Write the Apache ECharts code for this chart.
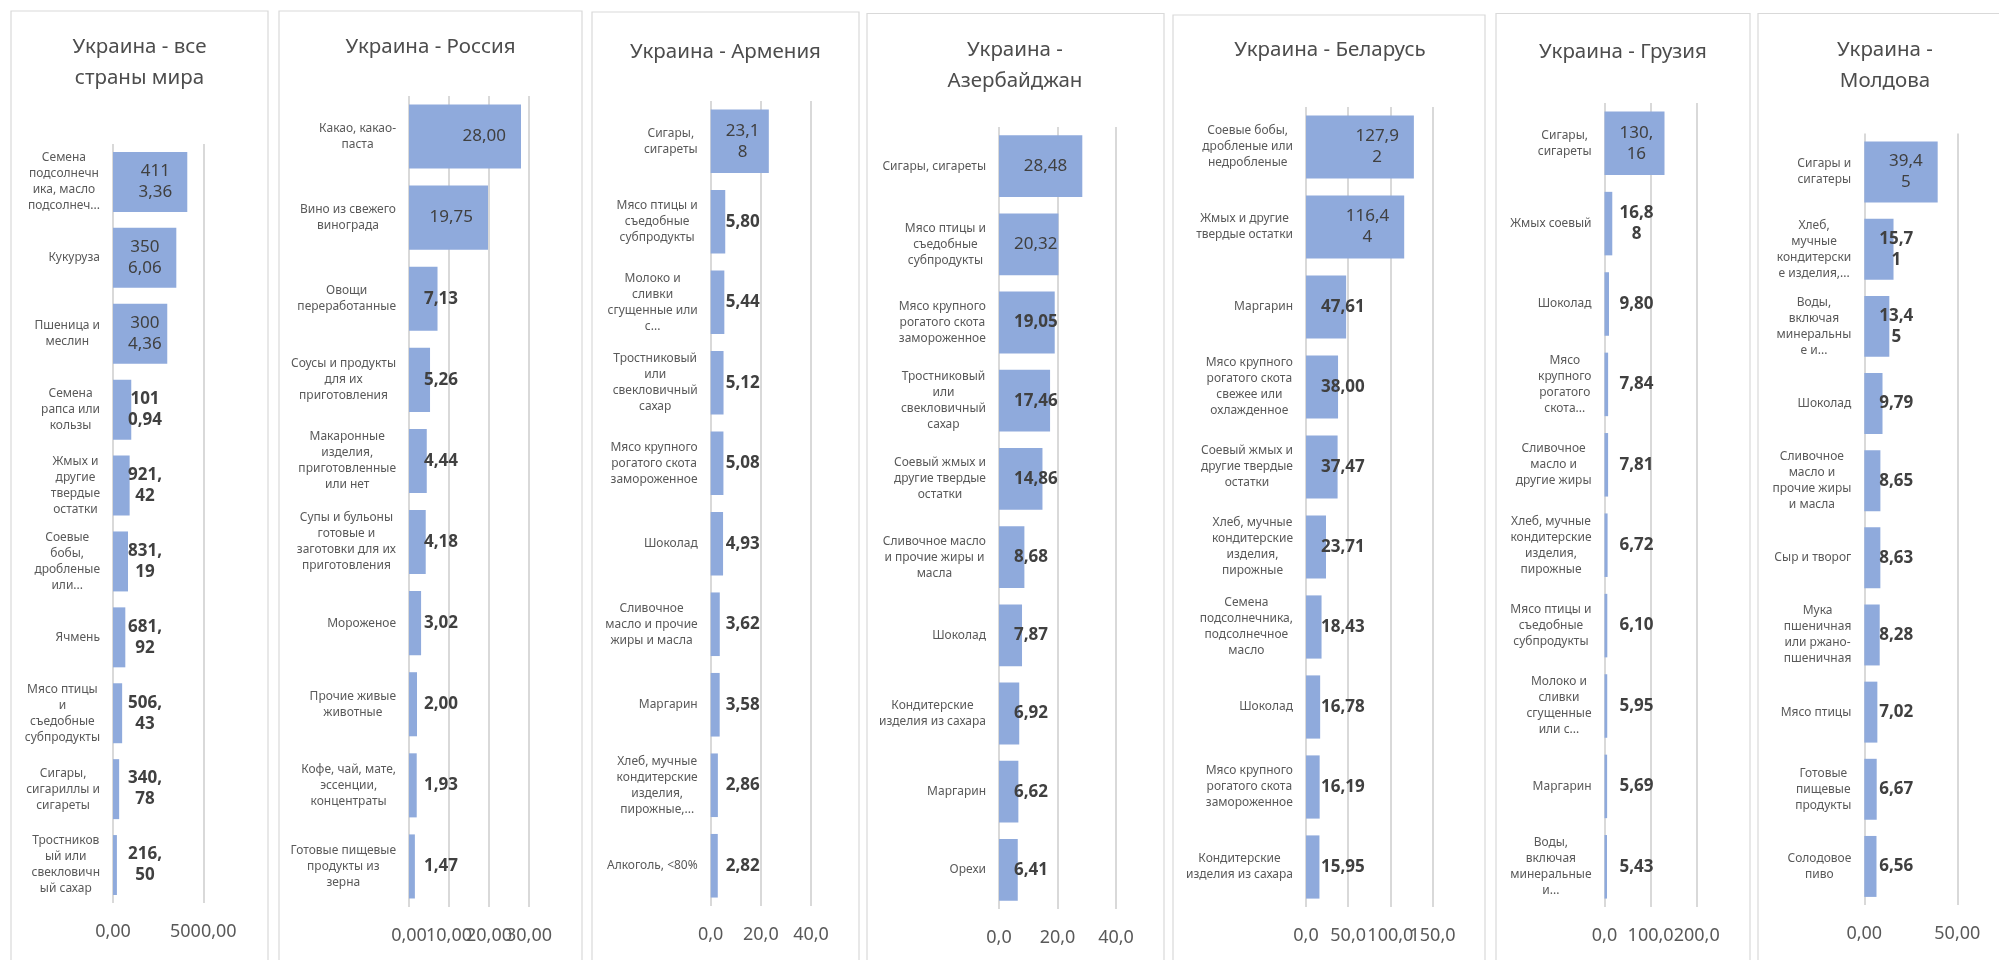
<!DOCTYPE html>
<html><head><meta charset="utf-8">
<script src="https://cdn.jsdelivr.net/npm/echarts@6/dist/echarts.min.js"></script>
<style>html,body{margin:0;padding:0;background:#fff}#c{width:1999px;height:960px}</style>
</head><body><div id="c"></div>
<script>
// ---------- DATA ----------
const titles = [
  "Украина - все\nстраны мира",
  "Украина - Россия",
  "Украина - Армения",
  "Украина -\nАзербайджан",
  "Украина - Беларусь",
  "Украина - Грузия",
  "Украина -\nМолдова"
];

const catsWorld = ["Семена\nподсолнечн\nика, масло\nподсолнеч...","Кукуруза","Пшеница и\nмеслин","Семена\nрапса или\nкользы","Жмых и\nдругие\nтвердые\nостатки","Соевые\nбобы,\nдробленые\nили...","Ячмень","Мясо птицы\nи\nсъедобные\nсубпродукты","Сигары,\nсигариллы и\nсигареты","Тростников\nый или\nсвекловичн\nый сахар"];
const valsWorld = [4113.36, 3506.06, 3004.36, 1010.94, 921.42, 831.19, 681.92, 506.43, 340.78, 216.50];

const catsRussia = ["Какао, какао-\nпаста","Вино из свежего\nвинограда","Овощи\nпереработанные","Соусы и продукты\nдля их\nприготовления","Макаронные\nизделия,\nприготовленные\nили нет","Супы и бульоны\nготовые и\nзаготовки для их\nприготовления","Мороженое","Прочие живые\nживотные","Кофе, чай, мате,\nэссенции,\nконцентраты","Готовые пищевые\nпродукты из\nзерна"];
const valsRussia = [28.00, 19.75, 7.13, 5.26, 4.44, 4.18, 3.02, 2.00, 1.93, 1.47];

const catsArmenia = ["Сигары,\nсигареты","Мясо птицы и\nсъедобные\nсубпродукты","Молоко и\nсливки\nсгущенные или\nс...","Тростниковый\nили\nсвекловичный\nсахар","Мясо крупного\nрогатого скота\nзамороженное","Шоколад","Сливочное\nмасло и прочие\nжиры и масла","Маргарин","Хлеб, мучные\nкондитерские\nизделия,\nпирожные,...","Алкоголь, <80%"];
const valsArmenia = [23.18, 5.80, 5.44, 5.12, 5.08, 4.93, 3.62, 3.58, 2.86, 2.82];

const catsAzerbaijan = ["Сигары, сигареты","Мясо птицы и\nсъедобные\nсубпродукты","Мясо крупного\nрогатого скота\nзамороженное","Тростниковый\nили\nсвекловичный\nсахар","Соевый жмых и\nдругие твердые\nостатки","Сливочное масло\nи прочие жиры и\nмасла","Шоколад","Кондитерские\nизделия из сахара","Маргарин","Орехи"];
const valsAzerbaijan = [28.48, 20.32, 19.05, 17.46, 14.86, 8.68, 7.87, 6.92, 6.62, 6.41];

const catsBelarus = ["Соевые бобы,\nдробленые или\nнедробленые","Жмых и другие\nтвердые остатки","Маргарин","Мясо крупного\nрогатого скота\nсвежее или\nохлажденное","Соевый жмых и\nдругие твердые\nостатки","Хлеб, мучные\nкондитерские\nизделия,\nпирожные","Семена\nподсолнечника,\nподсолнечное\nмасло","Шоколад","Мясо крупного\nрогатого скота\nзамороженное","Кондитерские\nизделия из сахара"];
const valsBelarus = [127.92, 116.44, 47.61, 38.00, 37.47, 23.71, 18.43, 16.78, 16.19, 15.95];

const catsGeorgia = ["Сигары,\nсигареты","Жмых соевый","Шоколад","Мясо\nкрупного\nрогатого\nскота...","Сливочное\nмасло и\nдругие жиры","Хлеб, мучные\nкондитерские\nизделия,\nпирожные","Мясо птицы и\nсъедобные\nсубпродукты","Молоко и\nсливки\nсгущенные\nили с...","Маргарин","Воды,\nвключая\nминеральные\nи..."];
const valsGeorgia = [130.16, 16.88, 9.80, 7.84, 7.81, 6.72, 6.10, 5.95, 5.69, 5.43];

const catsMoldova = ["Сигары и\nсигатеры","Хлеб,\nмучные\nкондитерски\nе изделия,...","Воды,\nвключая\nминеральны\nе и...","Шоколад","Сливочное\nмасло и\nпрочие жиры\nи масла","Сыр и творог","Мука\nпшеничная\nили ржано-\nпшеничная","Мясо птицы","Готовые\nпищевые\nпродукты","Солодовое\nпиво"];
const valsMoldova = [39.45, 15.71, 13.45, 9.79, 8.65, 8.63, 8.28, 7.02, 6.67, 6.56];

// axis ticks (max, interval, decimals of tick labels)
const axisMax = [5000, 30, 40, 40, 150, 200, 50];
const axisStep = [5000, 10, 20, 20, 50, 100, 50];
const axisDecimals = [2, 2, 1, 1, 1, 1, 2];

const allCats = [catsWorld, catsRussia, catsArmenia, catsAzerbaijan, catsBelarus, catsGeorgia, catsMoldova];
const allVals = [valsWorld, valsRussia, valsArmenia, valsAzerbaijan, valsBelarus, valsGeorgia, valsMoldova];

// ---------- LAYOUT ----------
const layout = [
  {px:11,   py:11,   pw:257, gl:113,   gr:203.3,  gt:144,   gb:903, tx:139.5, ty:32, wrap:4},
  {px:279,  py:11,   pw:303, gl:409,   gr:529,    gt:96,    gb:907, tx:430.5, ty:32, wrap:6},
  {px:592,  py:12,   pw:267, gl:710.7, gr:811,    gt:101,   gb:906, tx:725.5, ty:37, wrap:4},
  {px:867,  py:13.5, pw:297, gl:999,   gr:1116,   gt:127,   gb:909, tx:1015,  ty:35, wrap:6},
  {px:1173, py:15,   pw:312, gl:1306,  gr:1432.5, gt:107,   gb:907, tx:1330,  ty:35, wrap:5},
  {px:1496, py:13.5, pw:254, gl:1604.5,gr:1696.7, gt:103,   gb:907, tx:1623,  ty:37, wrap:4},
  {px:1758, py:13.5, pw:254, gl:1864.3,gr:1957.3, gt:133.5, gb:905, tx:1885,  ty:35, wrap:4}
];

const FONT = '"Noto Sans", "Open Sans", "DejaVu Sans", sans-serif';
const VAL_SIZE = 17, VAL_LH = 21, PAD = 15;

function fmtNum(v, d) { return v.toFixed(d).replace('.', ','); }
function wrapNum(s, n) {
  const lines = [];
  while (s.length > n) {
    let k = n;
    if (s[k] === ',') k--;
    lines.push(s.slice(0, k));
    s = s.slice(k);
  }
  lines.push(s);
  return lines;
}

const chart = echarts.init(document.getElementById('c'), null, {renderer: 'canvas'});

// 'in' = inside end; 'base' = pushed to the base; weight depends on the background under the text
const placement = allVals.map(v => v.map(() => 'in'));
const onBar = allVals.map(v => v.map(() => true));

function buildSeries() {
  return allVals.map((vals, i) => ({
    type: 'bar',
    xAxisIndex: i, yAxisIndex: i,
    barCategoryGap: '21%',
    itemStyle: {color: '#8faadc'},
    data: vals.map((v, j) => ({
      value: v,
      label: {
        position: placement[i][j] === 'in' ? 'insideRight' : 'insideLeft'
      }
    })),
    label: {
      show: true,
      distance: PAD,
      formatter: (p) => {
        const key = onBar[i][p.dataIndex] ? 'n' : 'b';
        return wrapNum(fmtNum(p.value, 2), layout[i].wrap).map(l => '{' + key + '|' + l + '}').join('\n');
      },
      rich: {
        n: {align: 'center', fontFamily: FONT, fontSize: VAL_SIZE, lineHeight: VAL_LH, color: '#404040', fontWeight: 'normal'},
        b: {align: 'center', fontFamily: FONT, fontSize: VAL_SIZE, lineHeight: VAL_LH, color: '#404040', fontWeight: 'bold'}
      }
    }
  }));
}

// Each grid gets two value axes with the same scale: one labels the even ticks, the
// other the odd ticks, so that touching tick labels (as in the original) are all kept.
function makeXAxis(i, parity) {
  return {
    type: 'value', gridIndex: i, position: 'bottom', offset: 0,
    min: 0, max: axisMax[i], interval: axisStep[i],
    axisLine: {show: false}, axisTick: {show: false},
    splitLine: {show: parity === 0, lineStyle: {color: '#d9d9d9', width: 2}},
    axisLabel: {
      show: true, showMinLabel: true, showMaxLabel: true, hideOverlap: false,
      margin: 20, fontFamily: FONT, fontSize: 18, color: '#595959',
      formatter: v => (Math.round(v / axisStep[i]) % 2 === parity) ? fmtNum(v, axisDecimals[i]) : ''
    }
  };
}

const option = {
  animation: false,
  backgroundColor: '#ffffff',
  graphic: layout.map(L => ({
    type: 'rect', z: -10, silent: true,
    shape: {x: L.px, y: L.py, width: L.pw, height: 1000},
    style: {fill: 'none', stroke: '#d9d9d9', lineWidth: 1.2}
  })),
  title: titles.map((t, i) => ({
    text: t,
    left: layout[i].tx, top: layout[i].ty,
    textAlign: 'center',
    padding: 0,
    textStyle: {fontFamily: FONT, fontSize: 20.5, fontWeight: 'normal', color: '#4d4d4d', lineHeight: 31}
  })),
  grid: layout.map(L => ({
    left: L.gl, top: L.gt, width: L.gr - L.gl, height: L.gb - L.gt
  })),
  xAxis: layout.map((L, i) => makeXAxis(i, 0)).concat(layout.map((L, i) => makeXAxis(i, 1))),
  yAxis: layout.map((L, i) => ({
    type: 'category', gridIndex: i, inverse: true, data: allCats[i],
    axisLine: {show: false}, axisTick: {show: false},
    axisLabel: {
      interval: 0, margin: 13,
      formatter: s => s.split('\n').map(l => '{c|' + l + '}').join('\n'),
      rich: {c: {align: 'center', fontFamily: FONT, fontSize: 12, lineHeight: 16, color: '#595959'}}
    }
  })),
  series: buildSeries()
};

chart.setOption(option);

// decide label placement (Excel "inside end", pushed to the base when it does not fit)
const ctx = document.createElement('canvas').getContext('2d');
ctx.font = 'normal ' + VAL_SIZE + 'px ' + FONT;
allVals.forEach((vals, i) => {
  const base = chart.convertToPixel({xAxisIndex: i}, 0);
  vals.forEach((v, j) => {
    const len = chart.convertToPixel({xAxisIndex: i}, v) - base;
    const lines = wrapNum(fmtNum(v, 2), layout[i].wrap);
    const w = Math.max.apply(null, lines.map(l => ctx.measureText(l).width));
    placement[i][j] = (len >= w + 2 * PAD) ? 'in' : 'base';
    onBar[i][j] = len >= w + PAD;
  });
});
chart.setOption({series: buildSeries()});
</script>
</body></html>
